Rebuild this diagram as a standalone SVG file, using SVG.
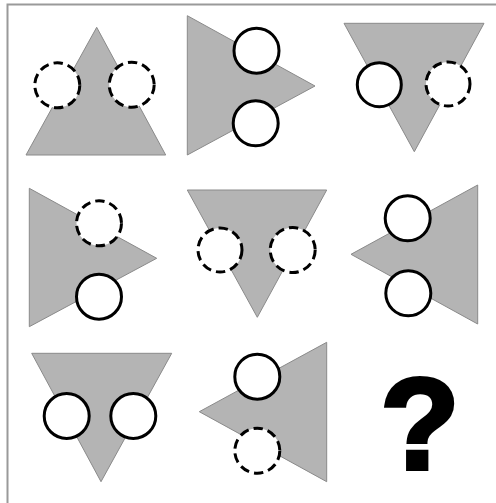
<svg xmlns="http://www.w3.org/2000/svg" width="496" height="503" viewBox="0 0 496 503">
<style>
.tri{fill:#b4b4b4;stroke:#8a8a8a;stroke-width:1}
.c{fill:#fff;stroke:#000;stroke-width:3}
.d{fill:#fff;stroke:#000;stroke-width:3;stroke-dasharray:9.5 5}
.frame{stroke:#9a9a9a;stroke-width:2;fill:none}
</style>
<rect width="496" height="503" fill="#fff"/>
<path class="frame" d="M7.5,503 V4.5 H496"/>
<g id="p1">
<polygon class="tri" points="96.7,27.3 26,155 165.7,155"/>
<circle class="d" cx="57.3" cy="85.3" r="22.5"/>
<circle class="d" cx="131.7" cy="84.7" r="22.5"/>
</g>
<g id="p2">
<polygon class="tri" points="187.3,15.7 187.3,155 315,86"/>
<circle class="c" cx="256.5" cy="50.7" r="22.5"/>
<circle class="c" cx="255.7" cy="123.3" r="22.5"/>
</g>
<g id="p3">
<polygon class="tri" points="344,23.3 484,23.3 414.3,151.7"/>
<circle class="c" cx="379.3" cy="84.7" r="22"/>
<circle class="d" cx="448" cy="84" r="22"/>
</g>
<g id="p4">
<polygon class="tri" points="29.3,188.3 29.3,326.7 156.7,258.3"/>
<circle class="d" cx="99" cy="223.3" r="22.5"/>
<circle class="c" cx="99" cy="296.7" r="22.5"/>
</g>
<g id="p5">
<polygon class="tri" points="187.3,190 326.7,190 257.3,317.3"/>
<circle class="d" cx="220" cy="250" r="22"/>
<circle class="d" cx="292.7" cy="250" r="22.5"/>
</g>
<g id="p6">
<polygon class="tri" points="477.7,185 477.7,324 351,254.3"/>
<circle class="c" cx="407.7" cy="218.3" r="22.5"/>
<circle class="c" cx="408.3" cy="293.3" r="22.5"/>
</g>
<g id="p7">
<polygon class="tri" points="31.7,353.3 171.7,353.3 101,481.7"/>
<circle class="c" cx="66.7" cy="416" r="22.5"/>
<circle class="c" cx="133.3" cy="416" r="22.5"/>
</g>
<g id="p8">
<polygon class="tri" points="326.7,342.3 326.7,481.7 199.3,411.7"/>
<circle class="c" cx="257.3" cy="376.7" r="22.5"/>
<circle class="d" cx="257.3" cy="450.7" r="22.5"/>
</g>
<g id="p9">
<text x="420" y="469" text-anchor="middle" font-family="Liberation Sans, Arial, sans-serif" font-weight="bold" font-size="130" fill="#000" stroke="#000" stroke-width="4">?</text>
</g>
</svg>
